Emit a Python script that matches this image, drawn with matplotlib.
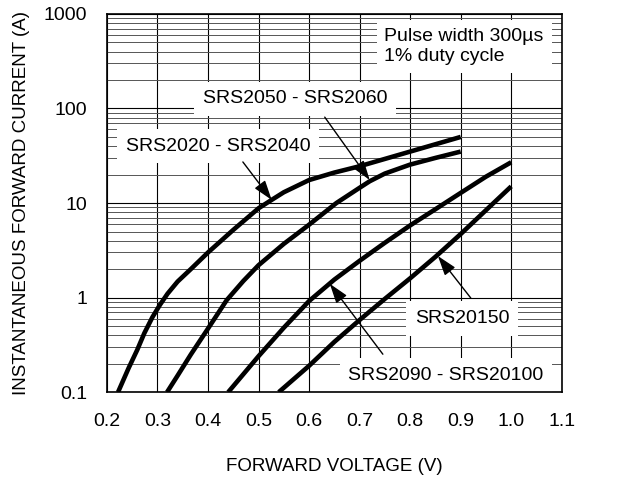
import matplotlib
matplotlib.use('Agg')
import matplotlib.pyplot as plt

plt.rcParams['font.family'] = ['Liberation Sans', 'DejaVu Sans']

# forward characteristics
v_2020 = [0.222, 0.243, 0.26, 0.274, 0.29, 0.305, 0.32, 0.34, 0.366, 0.40, 0.45, 0.50,
          0.526, 0.55, 0.60, 0.65, 0.70, 0.80, 0.90]
i_2020 = [0.1, 0.18, 0.28, 0.42, 0.62, 0.84, 1.1, 1.48, 2.0, 3.0, 5.2, 8.8,
          10.8, 13, 17.5, 21, 24.5, 35, 50]

v_2050 = [0.319, 0.34, 0.366, 0.40, 0.437, 0.47, 0.50, 0.55, 0.60, 0.654, 0.70, 0.72,
          0.75, 0.80, 0.85, 0.90]
i_2050 = [0.1, 0.15, 0.25, 0.47, 0.94, 1.5, 2.2, 3.7, 5.9, 10, 14.5, 17,
          20.5, 25.5, 30, 35]

v_2090 = [0.44, 0.50, 0.55, 0.60, 0.65, 0.70, 0.75, 0.80, 0.85, 0.90, 0.95, 1.00]
i_2090 = [0.1, 0.24, 0.48, 0.92, 1.55, 2.45, 3.8, 5.8, 8.6, 12.8, 19, 27]

v_20150 = [0.54, 0.60, 0.65, 0.70, 0.75, 0.80, 0.85, 0.90, 0.95, 1.00]
i_20150 = [0.1, 0.19, 0.34, 0.58, 0.97, 1.6, 2.7, 4.7, 8.4, 15]

x_ticks = [0.2, 0.3, 0.4, 0.5, 0.6, 0.7, 0.8, 0.9, 1.0, 1.1]
x_tick_labels = ['0.2', '0.3', '0.4', '0.5', '0.6', '0.7', '0.8', '0.9', '1.0', '1.1']
y_ticks = [0.1, 1, 10, 100, 1000]
y_tick_labels = ['0.1', '1', '10', '100', '1000']

# (label, text position, arrow start, arrow tip)
labels = [
    ('SRS2050 - SRS2060', (0.572, 126), (0.631, 81), (0.720, 17.5)),
    ('SRS2020 - SRS2040', (0.4205, 40), (0.469, 27.2), (0.526, 10.8)),
    ('SRS20150', (0.903, 0.60), (0.920, 0.99), (0.855, 2.75)),
    ('SRS2090 - SRS20100', (0.871, 0.151), (0.746, 0.252), (0.641, 1.4)),
]

fig = plt.figure(figsize=(6.18, 4.8), dpi=100)
ax = fig.add_axes([0.173, 0.183, 0.736, 0.788])
ax.set_yscale('log')
ax.set_xlim(0.2, 1.1)
ax.set_ylim(0.1, 1000)

ax.set_xticks(x_ticks)
ax.set_xticklabels(x_tick_labels)
ax.set_yticks(y_ticks)
ax.set_yticklabels(y_tick_labels)
ax.yaxis.set_minor_locator(matplotlib.ticker.LogLocator(base=10, subs=range(2, 10)))
ax.yaxis.set_minor_formatter(matplotlib.ticker.NullFormatter())
ax.tick_params(which='both', length=0, labelsize=14)
ax.tick_params(axis='x', pad=15)
ax.tick_params(axis='y', pad=14)

ax.grid(True, which='major', color='black', lw=0.8)
ax.grid(True, which='minor', axis='y', color='#555555', lw=0.7)
ax.set_axisbelow(True)
for s in ax.spines.values():
    s.set_linewidth(1.2)

for v, i in [(v_2020, i_2020), (v_2050, i_2050), (v_2090, i_2090), (v_20150, i_20150)]:
    ax.plot(v, i, color='black', lw=3.3, solid_capstyle='butt', solid_joinstyle='round', zorder=3)

box = dict(boxstyle='square,pad=0.45', fc='white', ec='none')
arrow = dict(arrowstyle='-|>,head_length=0.6,head_width=0.2', color='black', lw=1,
             mutation_scale=20, shrinkA=0, shrinkB=0)

ax.text(0.749, 450, 'Pulse width 300\u00b5s\n1% duty cycle', ha='left', va='center',
        fontsize=14, bbox=dict(boxstyle='square,pad=0.4', fc='white', ec='none'),
        zorder=2.2, linespacing=1.25)
for name, txt_pos, start, tip in labels:
    ax.text(txt_pos[0], txt_pos[1], name, ha='center', va='center', fontsize=14,
            bbox=box, zorder=2.2)
    ax.annotate('', xy=tip, xytext=start, arrowprops=arrow, zorder=4)

ax.set_xlabel('FORWARD VOLTAGE (V)', fontsize=13.5, labelpad=20)
ax.set_ylabel('INSTANTANEOUS FORWARD CURRENT (A)', fontsize=13.5, labelpad=10)

fig.savefig('out.png', dpi=100)
